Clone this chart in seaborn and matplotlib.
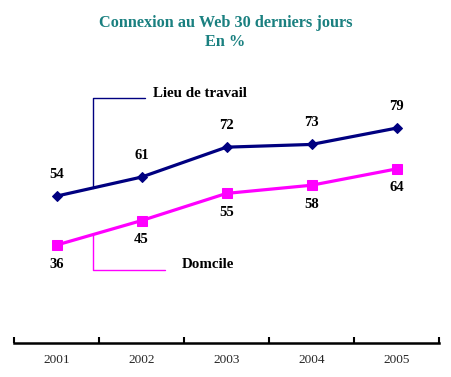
import matplotlib
matplotlib.use("Agg")
import matplotlib.pyplot as plt
import seaborn as sns
import pandas as pd

years = ["2001", "2002", "2003", "2004", "2005"]
travail = [54, 61, 72, 73, 79]
domicile = [36, 45, 55, 58, 64]
series_names = ["Lieu de travail", "Domcile"]
title = "Connexion au Web 30 derniers jours\nEn %"

sns.set_theme(style="white")
plt.rcParams["font.family"] = ["Liberation Serif", "DejaVu Serif"]

NAVY = "#000080"
MAGENTA = "#FF00FF"
TEAL = "#1A8080"

df = pd.DataFrame({
    "x": list(range(len(years))) * 2,
    "val": travail + domicile,
    "serie": [series_names[0]] * len(years) + [series_names[1]] * len(years),
})

fig = plt.figure(figsize=(4.51, 3.77), dpi=100)
ax = fig.add_axes([14 / 451, 34 / 377, 425 / 451, 272 / 377])

sns.lineplot(data=df, x="x", y="val", hue="serie", style="serie",
             palette={series_names[0]: NAVY, series_names[1]: MAGENTA},
             markers={series_names[0]: "D", series_names[1]: "s"},
             dashes=False, linewidth=2.3, legend=False, ax=ax)
for line in ax.get_lines():
    if line.get_marker() == "D":
        line.set_markersize(5.5)
    else:
        line.set_markersize(7.5)
    line.set_markeredgecolor(line.get_color())

for i, v in enumerate(travail):
    ax.annotate(str(v), (i, v), xytext=(0, 11), textcoords="offset points",
                ha="center", va="bottom", fontsize=10.5, fontweight="bold", color="black")
for i, v in enumerate(domicile):
    ax.annotate(str(v), (i, v), xytext=(0, -9), textcoords="offset points",
                ha="center", va="top", fontsize=10.5, fontweight="bold", color="black")

# callouts
cx = 0.43
ax.plot([cx, cx, 1.04], [57.0, 90, 90], color=NAVY, lw=1)
ax.text(1.135, 89.5, series_names[0], ha="left", va="bottom", fontsize=10.8,
        fontweight="bold", color="black")
ax.plot([cx, cx, 1.276], [39.9, 26.8, 26.8], color=MAGENTA, lw=1)
ax.text(1.476, 26.3, series_names[1], ha="left", va="bottom", fontsize=10.8,
        fontweight="bold", color="black")

ax.set_xlim(-0.5, len(years) - 0.5)
ax.set_ylim(0, 100)
ax.set_xticks(range(len(years)))
ax.set_xticklabels(years, fontsize=9.5)
ax.set_xticks([i - 0.5 for i in range(len(years) + 1)], minor=True)
ax.tick_params(axis="x", which="major", length=0, pad=8, bottom=False)
ax.tick_params(axis="x", which="minor", length=4, width=1.5, color="black",
               direction="in", bottom=True)
ax.set_yticks([])
ax.set_xlabel("")
ax.set_ylabel("")
for s in ["top", "right", "left"]:
    ax.spines[s].set_visible(False)
ax.spines["bottom"].set_color("black")
ax.spines["bottom"].set_linewidth(1.8)
ax.patch.set_alpha(0)

fig.text(0.5, 1 - 32.5 / 377, title, ha="center", va="center", fontsize=11.7,
         fontweight="bold", color=TEAL, linespacing=1.3)

fig.savefig("out.png", dpi=100)
